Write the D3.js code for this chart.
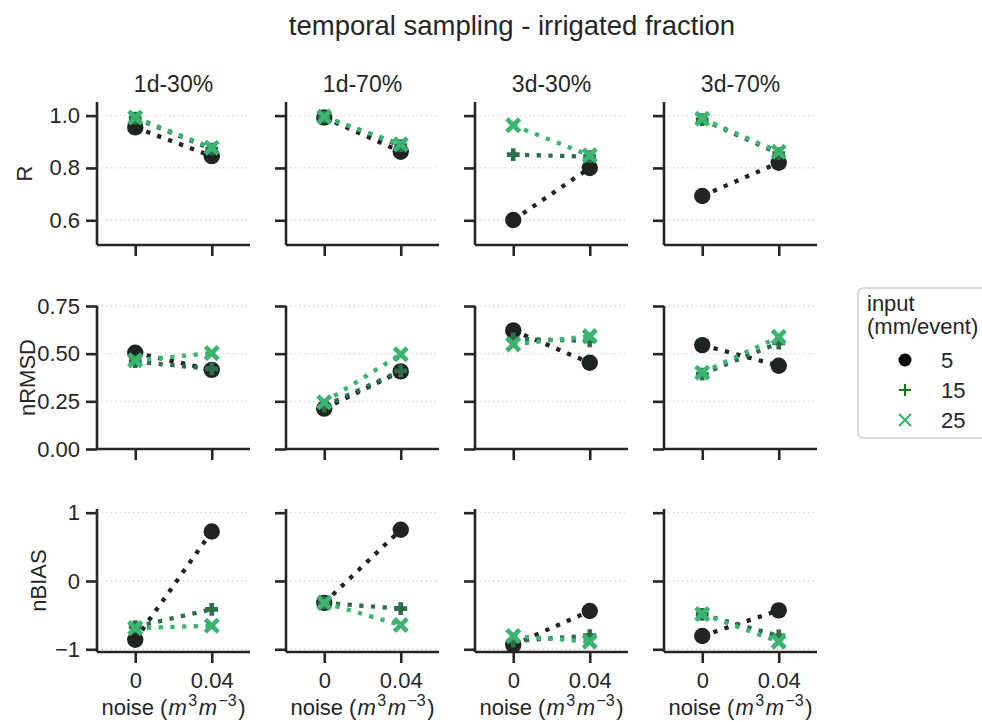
<!DOCTYPE html>
<meta charset="utf-8">
<html>
<head>
  <script src="https://d3js.org/d3.v7.min.js" charset="utf-8"></script>
</head>

<style>
* {
    font-family: "Liberation Sans", Arial, sans-serif;
}
body {
    margin: 0;
    background-color: white;
}
</style>

<body>
<div id=container></div>

<script type="text/javascript">

// ---- data ----
var metrics = ["R", "nRMSD", "nBIAS"]
var panels = ["1d-30%", "1d-70%", "3d-30%", "3d-70%"]
var noiseLevels = ["0", "0.04"]
var inputs = ["5", "15", "25"]

// one [noise 0, noise 0.04] pair per panel
var R_5  = [[0.955, 0.845], [0.993, 0.862], [0.601, 0.800], [0.693, 0.820]]
var R_15 = [[0.990, 0.872], [0.995, 0.885], [0.851, 0.843], [0.985, 0.855]]
var R_25 = [[0.993, 0.877], [0.995, 0.890], [0.963, 0.848], [0.988, 0.862]]

var nRMSD_5  = [[0.505, 0.415], [0.212, 0.407], [0.622, 0.452], [0.545, 0.437]]
var nRMSD_15 = [[0.458, 0.420], [0.225, 0.410], [0.578, 0.567], [0.393, 0.556]]
var nRMSD_25 = [[0.465, 0.503], [0.245, 0.497], [0.549, 0.592], [0.400, 0.588]]

var nBIAS_5  = [[-0.860, 0.725], [-0.320, 0.750], [-0.935, -0.440], [-0.805, -0.430]]
var nBIAS_15 = [[-0.670, -0.415], [-0.320, -0.405], [-0.880, -0.800], [-0.490, -0.805]]
var nBIAS_25 = [[-0.690, -0.655], [-0.320, -0.645], [-0.805, -0.888], [-0.485, -0.888]]

var yTicks = [[0.6, 0.8, 1.0], [0, 0.25, 0.5, 0.75], [-1, 0, 1]]
var yLimits = [[0.5055, 1.052], [0, 0.75], [-1.04, 1.054]]

var seriesByMetric = [[R_5, R_15, R_25], [nRMSD_5, nRMSD_15, nRMSD_25], [nBIAS_5, nBIAS_15, nBIAS_25]]

// ---- layout ----
var width = 982
var height = 722
var panelX0 = 97, panelDx = 189, panelW = 153, panelH = 143
var panelY = [102, 306, 509]
var yLabelX = [24, 27, 38]
var tickLen = 11
var ink = "#262626"

var markerColors = ["#202421", "#2e6e4a", "#3cb371"]
var legendColors = ["#000000", "#137a13", "#3cb371"]
var markerShapes = ["circle", "plus", "cross"]

var yFormats = [d3.format(".1f"), d3.format(".2f"), function(d) { return d3.format("d")(d).replace("-", "\u2212") }]

const svg = d3.select("#container")
              .append("svg")
              .attr("width", width)
              .attr("height", height)

svg.append("text")
   .attr("x", 512)
   .attr("y", 35)
   .attr("text-anchor", "middle")
   .attr("font-size", "27.5px")
   .attr("fill", ink)
   .text("temporal sampling - irrigated fraction")

var x = d3.scalePoint().domain(noiseLevels).range([0, panelW]).padding(0.5)

function drawMarker(g, shape, color, cx, cy, s, sw) {
  if (shape == "circle") {
    g.append("circle").attr("cx", cx).attr("cy", cy).attr("r", s).attr("fill", color)
  } else if (shape == "plus") {
    g.append("path")
     .attr("d", "M" + (cx - s) + "," + cy + "H" + (cx + s) + "M" + cx + "," + (cy - s) + "V" + (cy + s))
     .attr("stroke", color).attr("stroke-width", sw).attr("fill", "none")
  } else {
    g.append("path")
     .attr("d", "M" + (cx - s) + "," + (cy - s) + "L" + (cx + s) + "," + (cy + s) + "M" + (cx - s) + "," + (cy + s) + "L" + (cx + s) + "," + (cy - s))
     .attr("stroke", color).attr("stroke-width", sw).attr("fill", "none")
  }
}

metrics.forEach(function(metric, r) {
  var y = d3.scaleLinear().domain(yLimits[r]).range([panelH, 0])

  panels.forEach(function(name, c) {
    var g = svg.append("g")
               .attr("transform", "translate(" + (panelX0 + c * panelDx) + "," + panelY[r] + ")")

    // dotted grid
    g.selectAll(".grid")
     .data(yTicks[r])
     .enter()
     .append("line")
     .attr("x1", 0).attr("x2", panelW)
     .attr("y1", (d) => y(d)).attr("y2", (d) => y(d))
     .attr("stroke", "#d6d6d6")
     .attr("stroke-width", 1.3)
     .attr("stroke-dasharray", "1.5,3")

    // y axis
    var yAxis = d3.axisLeft(y).tickValues(yTicks[r]).tickSize(tickLen).tickPadding(6)
                  .tickFormat(c == 0 ? yFormats[r] : "")
    var ya = g.append("g").call(yAxis)
    ya.select(".domain").attr("d", "M0," + panelH + "V0")

    // x axis
    var xAxis = d3.axisBottom(x).tickSize(tickLen).tickPadding(9)
                  .tickFormat(r == 2 ? null : "")
    var xa = g.append("g").attr("transform", "translate(0," + panelH + ")").call(xAxis)
    xa.select(".domain").attr("d", "M0,0H" + panelW)

    g.selectAll(".domain").attr("stroke", ink).attr("stroke-width", 2.6)
    g.selectAll(".tick line").attr("stroke", ink).attr("stroke-width", 2.6)
    g.selectAll(".tick text").attr("fill", ink).attr("font-size", "22px")
     .attr("font-family", "'Liberation Sans', Arial, sans-serif")

    // series
    seriesByMetric[r].forEach(function(series, s) {
      var vals = series[c]
      var pts = noiseLevels.map((n, i) => [x(n), y(vals[i])])
      g.append("path")
       .attr("d", d3.line()(pts))
       .attr("fill", "none")
       .attr("stroke", markerColors[s])
       .attr("stroke-width", 4.3)
       .attr("stroke-dasharray", "4.3,7.4")
      pts.forEach(function(p) {
        drawMarker(g, markerShapes[s], markerColors[s], p[0], p[1], s == 0 ? 8.2 : 6.4, 4.7)
      })
    })

    if (r == 0) {
      svg.append("text")
         .attr("x", panelX0 + c * panelDx + panelW / 2)
         .attr("y", panelY[0] - 10)
         .attr("text-anchor", "middle")
         .attr("font-size", "23px")
         .attr("fill", ink)
         .text(name)
    }

    if (r == 2) {
      var math = "'DejaVu Sans', sans-serif"
      var lab = svg.append("text")
                   .attr("x", panelX0 + c * panelDx + panelW / 2)
                   .attr("y", 715)
                   .attr("text-anchor", "middle")
                   .attr("font-size", "22px")
                   .attr("fill", ink)
      lab.append("tspan").text("noise (")
      lab.append("tspan").attr("font-family", math).attr("font-style", "italic").attr("dx", 1).text("m")
      lab.append("tspan").attr("font-family", math).attr("font-size", "16px").attr("dx", 1.5).attr("dy", -9).text("3")
      lab.append("tspan").attr("font-family", math).attr("font-style", "italic").attr("dx", 1.5).attr("dy", 9).text("m")
      lab.append("tspan").attr("font-family", math).attr("font-size", "16px").attr("dx", 1.5).attr("dy", -9).text("\u22123")
      lab.append("tspan").attr("dx", 1.5).attr("dy", 9).text(")")
    }
  })

  svg.append("text")
     .attr("transform", "translate(" + yLabelX[r] + "," + (panelY[r] + panelH / 2) + ") rotate(-90)")
     .attr("text-anchor", "middle")
     .attr("dominant-baseline", "central")
     .attr("font-size", "22px")
     .attr("fill", ink)
     .text(metric)
})

// ---- legend ----
var legend = svg.append("g").attr("id", "legend")
legend.append("rect")
      .attr("x", 858).attr("y", 288)
      .attr("width", 140).attr("height", 150)
      .attr("rx", 5)
      .attr("fill", "white")
      .attr("stroke", "#d0d0d0")
      .attr("stroke-width", 1.5)

legend.append("text").attr("x", 867).attr("y", 311)
      .attr("font-size", "22px").attr("fill", ink).text("input")
legend.append("text").attr("x", 867).attr("y", 334)
      .attr("font-size", "22px").attr("fill", ink).text("(mm/event)")

inputs.forEach(function(d, i) {
  var cy = 360 + i * 30
  drawMarker(legend, markerShapes[i], legendColors[i], 905, cy, i == 0 ? 6.5 : 6, 2.2)
  legend.append("text")
        .attr("x", 941).attr("y", cy)
        .attr("dominant-baseline", "central")
        .attr("font-size", "22px")
        .attr("fill", ink)
        .text(d)
})

</script>
</body>
</html>
